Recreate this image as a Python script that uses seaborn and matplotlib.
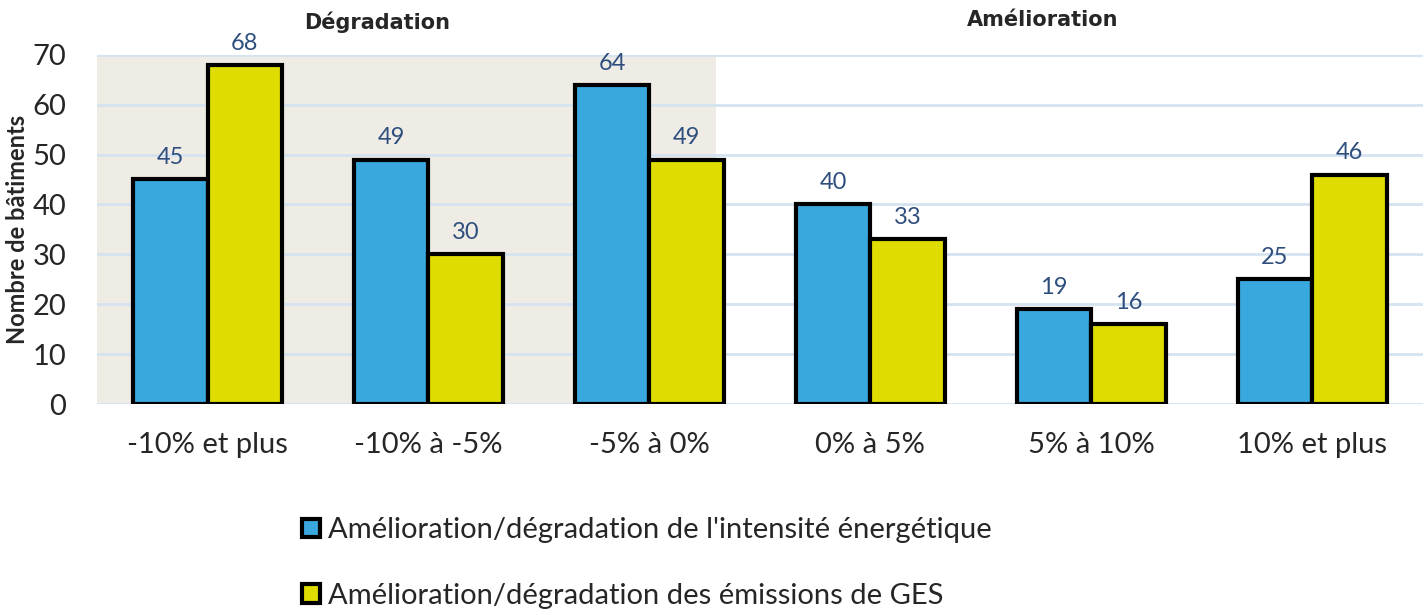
import pandas as pd
import seaborn as sns
import matplotlib.pyplot as plt

# Data
categories = ["-10% et plus", "-10% à -5%", "-5% à 0%", "0% à 5%", "5% à 10%", "10% et plus"]
intensite = [45, 49, 64, 40, 19, 25]
ges = [68, 30, 49, 33, 16, 46]
series_names = ["Amélioration/dégradation de l'intensité énergétique",
                "Amélioration/dégradation des émissions de GES"]
colors = ["#38A8DE", "#DEDC00"]

df = pd.DataFrame({
    "categorie": categories * 2,
    "valeur": intensite + ges,
    "serie": [series_names[0]] * len(categories) + [series_names[1]] * len(categories),
})

sns.set_style("white")
plt.rcParams["font.family"] = ["Lato", "DejaVu Sans"]

fig = plt.figure(figsize=(14.27, 6.15), dpi=100)
ax = fig.add_axes([0.068, 0.343, 0.929, 0.568])

# shaded "Dégradation" zone
ax.axvspan(-0.5, 2.3, color="#EFECE5", zorder=0, lw=0)

sns.barplot(data=df, x="categorie", y="valeur", hue="serie", palette=colors,
            width=0.675, edgecolor="black", linewidth=3, saturation=1,
            ax=ax, zorder=3)

for cont in ax.containers:
    ax.bar_label(cont, padding=8, fontsize=17, color="#2E4F7E")

ax.set_xlim(-0.5, 5.5)
ax.set_ylim(0, 70)
ax.set_yticks(range(0, 71, 10))
ax.yaxis.grid(True, color="#D5E3F0", linewidth=2, zorder=1)
ax.set_axisbelow(True)
for s in ax.spines.values():
    s.set_visible(False)
ax.tick_params(axis="both", length=0)
ax.tick_params(axis="x", pad=20, labelsize=21)
ax.tick_params(axis="y", pad=22, labelsize=21)
ax.set_xlabel("")
ax.set_ylabel("Nombre de bâtiments", fontsize=17, fontweight="bold")
ax.yaxis.set_label_coords(-0.051, 0.5)

fig.text(377 / 1427, 1 - 22 / 615, "Dégradation", fontsize=15, fontweight="bold",
         ha="center", va="center", family="DejaVu Sans")
fig.text(1043 / 1427, 1 - 20 / 615, "Amélioration", fontsize=15, fontweight="bold",
         ha="center", va="center", family="DejaVu Sans")

handles, labels = ax.get_legend_handles_labels()
ax.legend_.remove()
fig.legend(handles, labels, loc="upper left", bbox_to_anchor=(0.2035, 0.178),
           frameon=False, fontsize=21, handlelength=0.6, handleheight=0.6,
           handletextpad=0.3, labelspacing=1.35, borderaxespad=0)

fig.savefig("out.png", dpi=100)
